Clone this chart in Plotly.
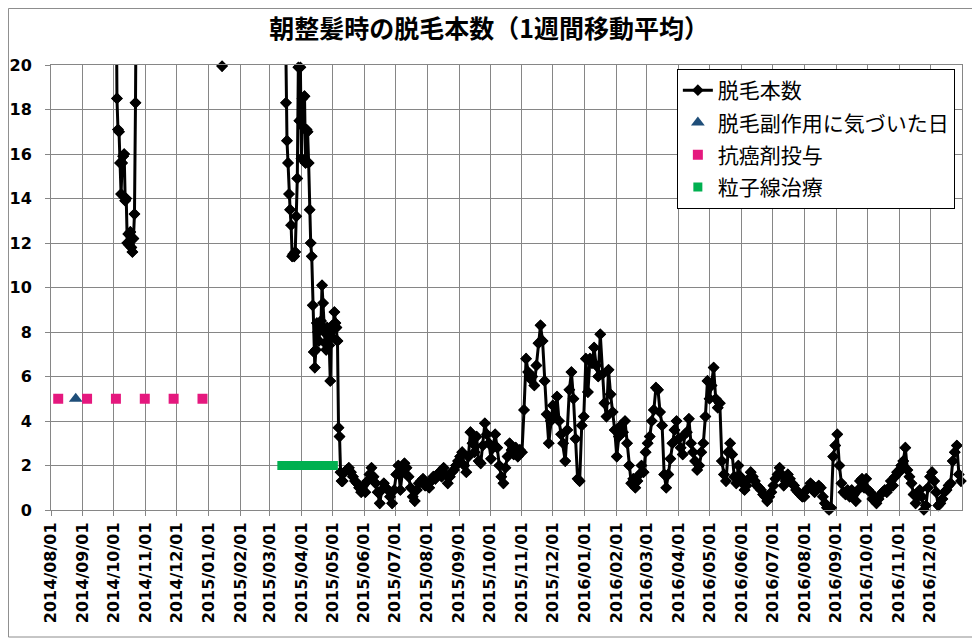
import pandas as pd
import plotly.graph_objects as go

# 1-week moving average of hairs lost while combing in the morning.
# values above 20 lie outside the axis and only show as lines leaving the top edge
oct_2014_start = '2014-10-03'
oct_2014_counts = [26.0, 18.5, 17.1, 17.0, 15.6, 14.2, 15.6, 15.9, 16.0, 13.9, 14.0,
                   12.0, 12.4, 11.9, 12.5, 11.8, 11.6, 12.2, 13.3, 18.3, 26.0]

jan_2015_start = '2015-01-13'
jan_2015_counts = [24.0, 19.95, 24.0]

# daily values, 2015-03-16 .. 2015-05-10
spring_2015_start = '2015-03-16'
spring_2015_counts = [24.0, 18.3, 16.6, 15.6, 14.2, 13.5, 12.8, 11.4, 11.5, 11.4, 11.6,
                      13.2, 14.9, 19.9, 17.5, 19.9,
                      15.8, 18.5, 17.2, 18.6, 15.6, 17.1, 17.0, 15.6, 13.5, 12.0,
                      11.4, 9.2, 7.1, 6.4, 7.2, 8.4, 8.0, 7.6, 8.3, 8.5,
                      10.1, 9.3, 8.0, 7.5, 7.2, 8.2, 8.0, 7.4, 5.8, 7.8,
                      8.3, 8.1, 8.9, 8.4, 8.2, 7.6, 3.7, 3.3, 1.7, 1.3]

# every other day from here on, one list per month
month_starts = ['2015-05-11', '2015-06-02', '2015-07-02', '2015-08-01', '2015-09-02',
                '2015-10-02', '2015-11-01', '2015-12-01', '2016-01-02', '2016-02-01',
                '2016-03-02', '2016-04-01', '2016-05-01', '2016-06-02', '2016-07-02',
                '2016-08-01', '2016-09-02', '2016-10-02', '2016-11-01', '2016-12-01']
month_counts = [
    [1.3, 1.7, 1.8, 1.9, 1.7, 1.5, 1.3, 1.2, 1.0, 0.8, 1.1],
    [0.8, 1.3, 1.6, 1.9, 1.5, 1.2, 0.8, 0.3, 0.9, 1.2, 1.0, 0.9, 0.6, 0.3, 0.9],
    [1.6, 2.0, 0.9, 1.7, 2.1, 1.9, 1.5, 1.0, 0.6, 0.4, 0.9, 1.2, 1.3, 1.4, 1.1],
    [1.2, 1.0, 1.3, 1.5, 1.4, 1.6, 1.7, 1.5, 1.9, 1.6, 1.2, 1.5, 1.7, 1.8, 2.0, 2.2],
    [2.4, 2.6, 2.0, 1.7, 2.4, 3.5, 3.0, 2.6, 3.3, 2.2, 2.1, 2.9, 3.9, 3.4, 3.0],
    [2.3, 2.8, 3.4, 2.8, 2.0, 1.5, 1.2, 1.9, 2.4, 3.0, 2.7, 2.5, 2.8, 2.4, 2.7],
    [2.6, 4.5, 6.8, 6.2, 5.9, 6.0, 5.6, 6.5, 7.5, 8.3, 7.6, 5.8, 4.3, 3.0, 4.0],
    [4.7, 4.2, 5.1, 4.0, 3.4, 3.0, 2.2, 3.6, 5.4, 6.2, 5.0, 3.2, 1.4, 1.3, 3.8, 4.2],
    [6.8, 5.3, 6.8, 6.6, 7.3, 6.5, 6.0, 7.9, 6.1, 4.8, 4.2, 6.3, 5.2, 4.4, 3.6],
    [2.4, 3.3, 3.8, 3.5, 4.0, 3.0, 2.0, 1.2, 1.4, 1.0, 1.3, 1.6, 2.0, 1.7, 2.6],
    [3.0, 3.3, 4.0, 4.5, 5.5, 5.4, 4.4, 3.8, 1.6, 1.0, 1.6, 2.3, 3.0, 3.6, 4.0],
    [3.2, 2.8, 2.5, 3.4, 3.5, 4.1, 3.0, 2.6, 2.2, 1.8, 2.0, 2.6, 3.0, 4.2, 5.8],
    [5.0, 5.6, 6.4, 5.0, 4.6, 4.8, 2.2, 1.6, 1.3, 2.6, 3.0, 2.5, 1.5, 1.2, 2.0, 1.5],
    [1.2, 0.9, 1.1, 1.4, 1.7, 1.5, 1.3, 1.1, 1.0, 0.9, 0.7, 0.6, 0.4, 0.6, 0.8],
    [1.1, 1.4, 1.6, 1.9, 1.6, 1.1, 1.3, 1.6, 1.4, 1.2, 1.1, 0.9, 0.8, 0.7, 0.6],
    [0.6, 0.9, 1.0, 1.2, 1.1, 0.8, 0.9, 1.1, 1.0, 0.6, 0.3, 0.1, 0.0, 0.1, 2.4, 2.9],
    [3.4, 2.0, 1.2, 0.8, 0.7, 0.9, 0.6, 0.9, 0.7, 0.4, 0.9, 1.3, 1.4, 1.0, 1.4],
    [0.9, 0.8, 0.5, 0.6, 0.3, 0.5, 0.7, 0.8, 0.9, 0.8, 1.0, 1.3, 1.1, 1.5, 1.7],
    [1.7, 2.0, 2.2, 2.8, 1.8, 1.5, 1.2, 0.7, 0.3, 0.6, 0.9, 0.6, 0.0, 0.2, 1.0],
    [1.5, 1.7, 1.3, 0.8, 0.2, 0.3, 0.5, 0.8, 0.9, 1.1, 1.2, 2.2, 2.6, 2.9, 1.6, 1.3],
]

noticed_date = ['2014-08-25']
noticed_level = [5]

chemo_dates = ['2014-08-08', '2014-09-05', '2014-10-03', '2014-10-31', '2014-11-28', '2014-12-26']
chemo_level = 5

particle_first, particle_last = '2015-03-13', '2015-05-02'
particle_level = 2

# monthly axis labels, 2014/08/01 .. 2016/12/01
month_ticks = pd.date_range('2014-08-01', '2016-12-01', freq='MS')

# assemble the hair count series
dates, counts = [], []
for start, vals in [(oct_2014_start, oct_2014_counts),
                    (jan_2015_start, jan_2015_counts),
                    (spring_2015_start, spring_2015_counts)]:
    dates += list(pd.date_range(start, periods=len(vals), freq='D'))
    counts += vals
for start, vals in zip(month_starts, month_counts):
    dates += list(pd.date_range(start, periods=len(vals), freq='2D'))
    counts += vals

in_range = [(d, c) for d, c in zip(dates, counts) if c <= 20]
particle_dates = pd.date_range(particle_first, particle_last, freq='D')

JP = 'Noto Sans CJK JP'
GRID = '#868686'

fig = go.Figure()

fig.add_trace(go.Scatter(x=dates, y=counts, mode='lines+markers', name='脱毛本数',
                         legendgroup='a',
                         line=dict(color='black', width=3),
                         marker=dict(symbol='diamond', size=9, color='black')))
# redraw the visible diamonds unclipped so the one sitting on 20 stays whole
fig.add_trace(go.Scatter(x=[d for d, c in in_range], y=[c for d, c in in_range],
                         mode='markers', showlegend=False, cliponaxis=False,
                         marker=dict(symbol='diamond', size=9, color='black')))
fig.add_trace(go.Scatter(x=noticed_date, y=noticed_level, mode='markers',
                         name='脱毛副作用に気づいた日', legendgroup='b',
                         marker=dict(symbol='triangle-up', size=12, color='#1F4E79')))
fig.add_trace(go.Scatter(x=chemo_dates, y=[chemo_level] * len(chemo_dates), mode='markers',
                         name='抗癌剤投与', legendgroup='c',
                         marker=dict(symbol='square', size=10, color='#E5187E')))
fig.add_trace(go.Scatter(x=particle_dates, y=[particle_level] * len(particle_dates),
                         mode='markers', name='粒子線治療', legendgroup='d',
                         marker=dict(symbol='square', size=9, color='#00B050')))

# the page puts the figure 8px in from the top-left corner, so it is drawn a bit smaller
fig.update_layout(
    width=972, height=635,
    margin=dict(l=43, r=18, t=57, b=133),
    paper_bgcolor='white', plot_bgcolor='white',
    title=dict(text='朝整髪時の脱毛本数（1週間移動平均）',
               x=0.495, xanchor='center', y=0.967, yanchor='middle',
               font=dict(family=JP, size=25, color='black', weight='bold')),
    legend=dict(x=0.687, y=0.991, xanchor='left', yanchor='top',
                bgcolor='white', bordercolor='black', borderwidth=1,
                font=dict(family=JP, size=21, color='black'),
                traceorder='grouped', tracegroupgap=2, itemwidth=30),
    showlegend=True,
)

fig.update_xaxes(type='date', range=['2014-08-01', '2017-01-01'], automargin=False,
                 tickvals=month_ticks, tickformat='%Y/%m/%d', tickangle=-90,
                 showgrid=True, gridcolor=GRID, gridwidth=1,
                 showline=True, linecolor=GRID, mirror=True,
                 ticks='outside', ticklen=5, tickcolor=GRID,
                 tickfont=dict(family='DejaVu Sans', size=16, color='black', weight='bold'))
fig.update_yaxes(range=[0, 20], dtick=2, automargin=False,
                 showgrid=True, gridcolor=GRID, gridwidth=1, zeroline=False,
                 showline=True, linecolor=GRID, mirror=True,
                 ticks='outside', ticklen=5, tickcolor=GRID, ticklabelstandoff=10,
                 tickfont=dict(family='DejaVu Sans', size=16, color='black', weight='bold'))

# outer chart border
fig.add_shape(type='rect', xref='paper', yref='paper',
              x0=-0.0467, x1=1.0165, y0=-0.2854, y1=1.127,
              line=dict(color='#8c8c8c', width=1), layer='below')

fig.write_html('out.html')
